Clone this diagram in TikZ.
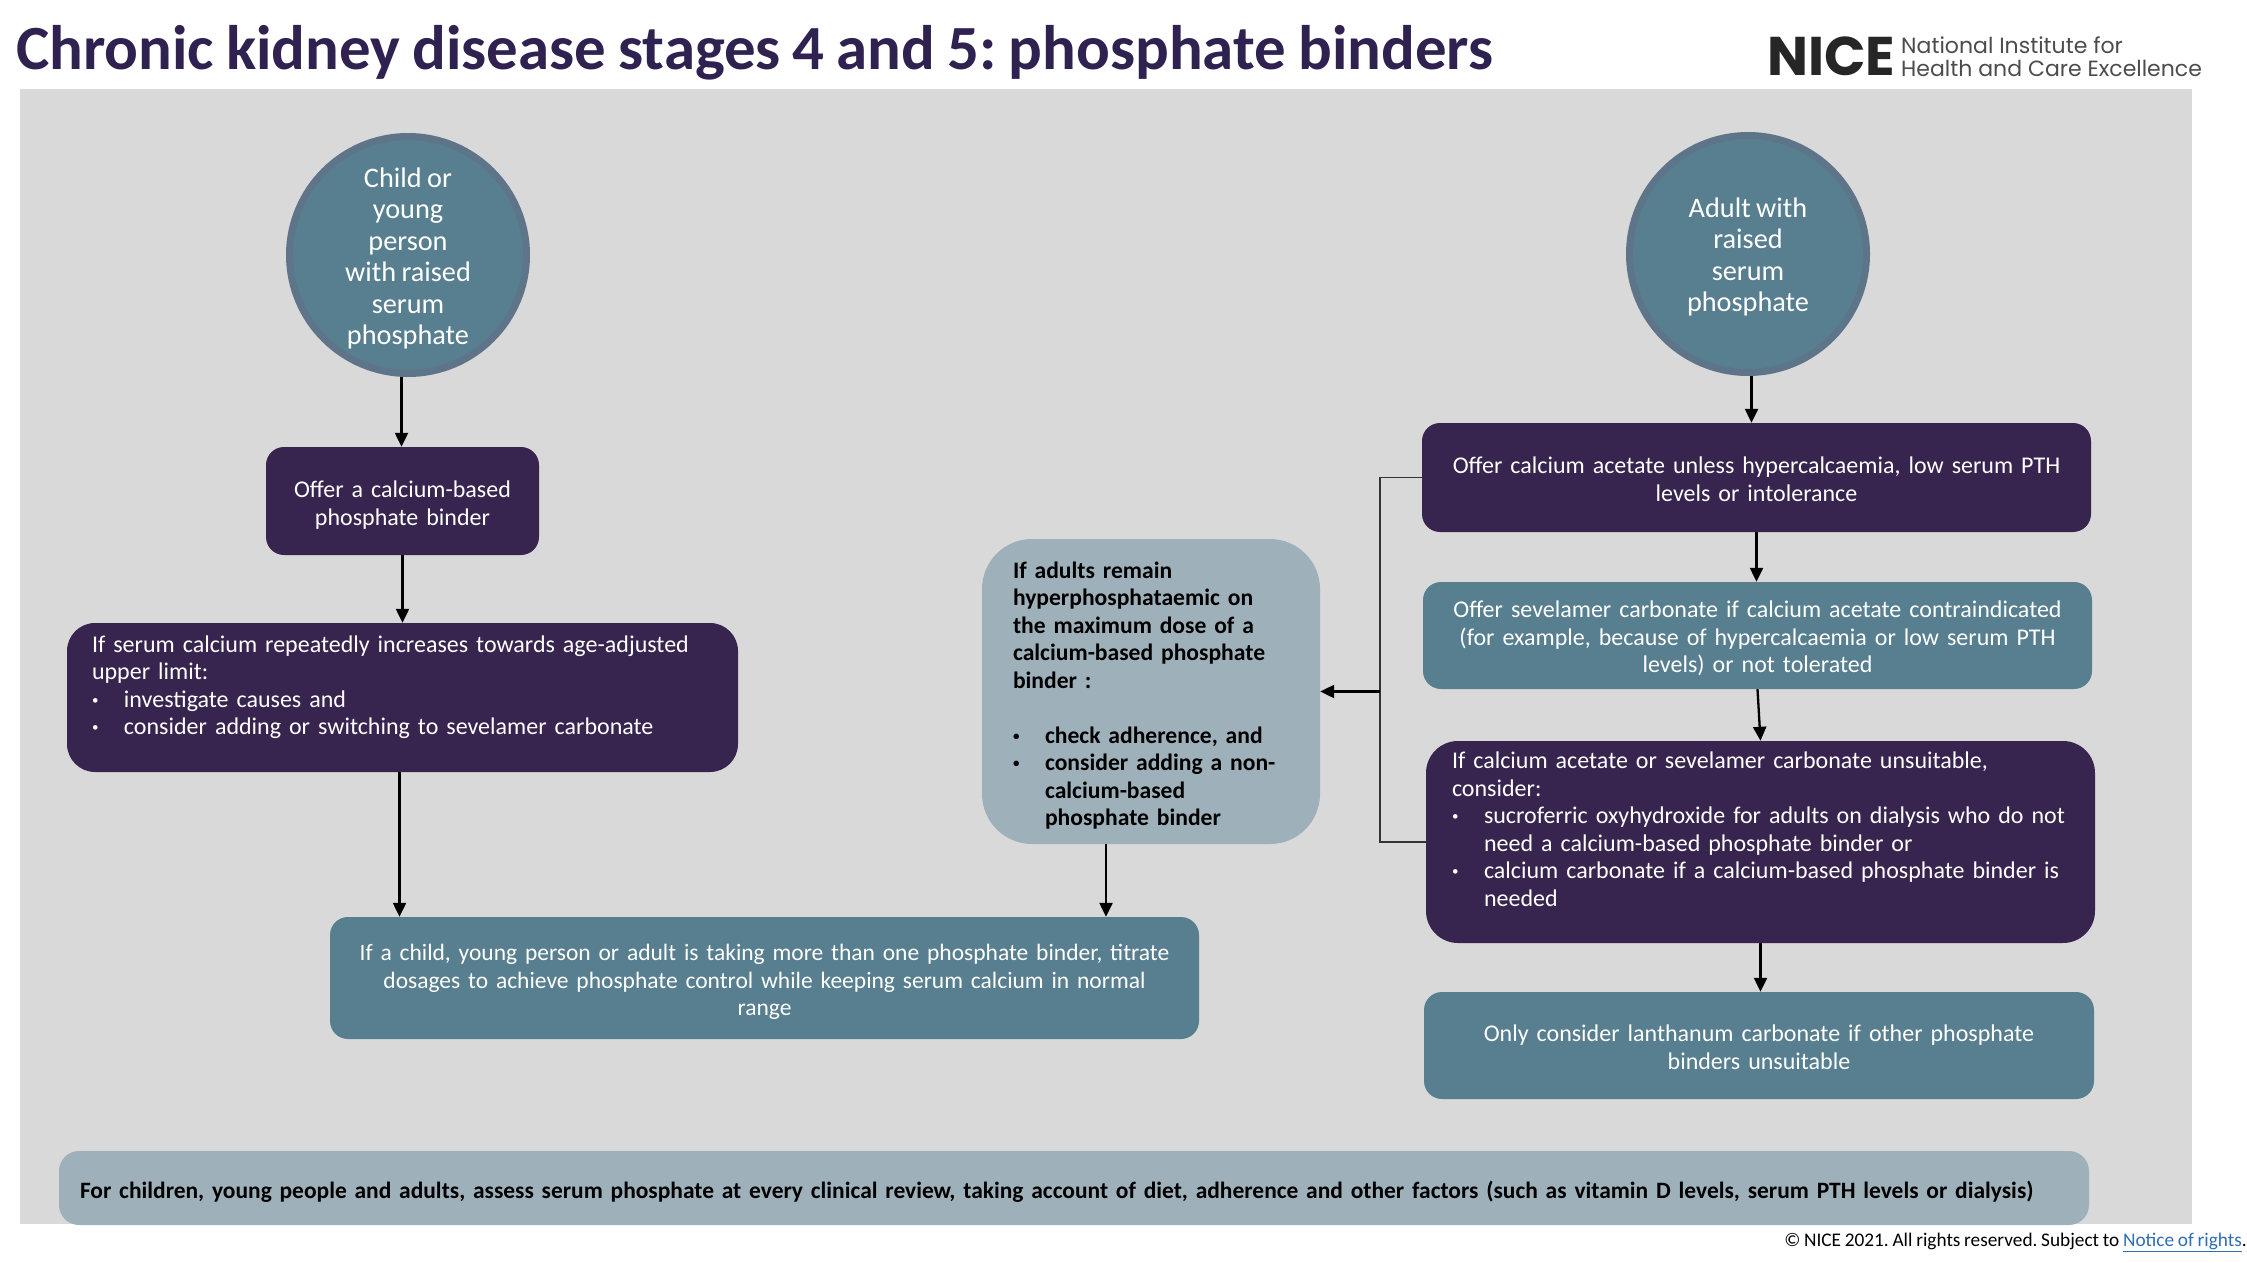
\documentclass[tikz,border=0pt]{standalone}
\usepackage{fontspec}
\setmainfont[WordSpace=0.85]{Carlito}
\newfontfamily\logofont{Poppins}
\usetikzlibrary{arrows.meta}
\frenchspacing
\definecolor{nicepurple}{HTML}{37254F}
\definecolor{niceteal}{HTML}{577F8F}
\definecolor{nicepale}{HTML}{9EB1BA}
\definecolor{niceback}{HTML}{D9D9D9}
\definecolor{nicering}{HTML}{5E7488}
\definecolor{nicetitle}{HTML}{2F2250}
\definecolor{nicelink}{HTML}{2F6DB5}
\newcommand{\bl}{\makebox[32pt][l]{\raisebox{3pt}{\fontsize{13}{13}\selectfont•}}}
\newcommand{\ct}{\hspace*{32pt}}
\tikzset{
  bodytext/.style={font=\fontsize{24}{27.5}\selectfont,text height=25pt},
  boldtext/.style={font=\fontsize{23.6}{27.5}\selectfont\bfseries},
  darkbox/.style={bodytext,fill=nicepurple,text=white,rounded corners=18pt,inner xsep=25pt,inner ysep=0pt},
  tealbox/.style={bodytext,fill=niceteal,text=white,rounded corners=18pt,inner xsep=25pt,inner ysep=0pt},
  palebox/.style={bodytext,boldtext,fill=nicepale,text=black,rounded corners=20pt,inner xsep=25pt,inner ysep=0pt},
  startcircle/.style={circle,fill=niceteal,draw=nicering,line width=7pt,minimum size=237pt,inner sep=0pt,
    text=white,align=center,font=\fontsize{28.3}{31.5}\selectfont},
  flow/.style={line width=2.3pt,-{Triangle[length=14pt,width=13pt]}},
  bracket/.style={line width=1.4pt,black!80},
}
\begin{document}
\begin{tikzpicture}[x=1pt,y=-1pt]
  \useasboundingbox (0,0) rectangle (2247,1263);
  \fill[niceback] (20,89) rectangle (2192,1224);
  \node[anchor=base west,inner sep=0pt,text=nicetitle,font=\fontsize{62.9}{70}\selectfont\bfseries] (title) at (16,70)
    {Chronic kidney disease stages 4 and 5: phosphate binders};
  \node[anchor=base west,inner sep=0pt,text=black!85,font=\logofont\fontsize{54.5}{56}\selectfont\bfseries] (logo) at (1767,75) {NICE};
  \node[anchor=south west,inner sep=0pt,align=left,text=black!70,font=\logofont\fontsize{22}{23.5}\selectfont] (logotext) at (1901,77)
    {National Institute for\\Health and Care Excellence};

  \node[startcircle,text height=184pt] (childcirc) at (408,255) {Child or\\young\\person\\with raised\\serum\\phosphate};
  \node[startcircle,text height=120pt] (adultcirc) at (1748,254) {Adult with\\raised\\serum\\phosphate};

  \node[darkbox,minimum width=273pt,minimum height=108pt,text width=223pt,align=center] (offerchild) at (402.5,501)
    {Offer a calcium-based\\phosphate binder};
  \node[darkbox,rounded corners=28pt,minimum width=671pt,minimum height=149pt,text width=621pt,align=left,text height=17pt,text depth=108pt] (serum) at (402.5,697.5)
    {If serum calcium repeatedly increases towards age-adjusted\\upper limit:\\
     \bl investigate causes and\\\bl consider adding or switching to sevelamer carbonate};
  \node[tealbox,font=\fontsize{23.5}{27.5}\selectfont,inner xsep=15pt,minimum width=869pt,minimum height=122pt,text width=839pt,align=center] (titrate) at (764.5,978)
    {If a child, young person or adult is taking more than one phosphate binder, titrate\\
     dosages to achieve phosphate control while keeping serum calcium in normal\\range};
  \node[palebox,rounded corners=50pt,inner xsep=31pt,minimum width=338pt,minimum height=305pt,text width=276pt,align=left] (adults) at (1151,691.5)
    {If adults remain\\hyperphosphataemic on\\the maximum dose of a\\calcium-based phosphate\\binder :\\[27.5pt]
     \bl check adherence, and\\\bl consider adding a non-\\\ct calcium-based\\\ct phosphate binder};

  \node[darkbox,text height=20pt,minimum width=669pt,minimum height=109pt,text width=619pt,align=center] (acetate) at (1756.5,477.5)
    {Offer calcium acetate unless hypercalcaemia, low serum PTH\\levels or intolerance};
  \node[tealbox,text height=23pt,minimum width=669pt,minimum height=107pt,text width=630pt,inner xsep=19.5pt,align=center] (sevelamer) at (1757.5,635.5)
    {Offer sevelamer carbonate if calcium acetate contraindicated\\(for example, because of hypercalcaemia or low serum PTH\\levels) or not tolerated};
  \node[darkbox,rounded corners=32pt,inner xsep=26pt,minimum width=669pt,minimum height=202pt,text width=617pt,align=left,text height=17pt,text depth=164pt] (calcium) at (1760.5,842)
    {If calcium acetate or sevelamer carbonate unsuitable,\\consider:\\
     \bl sucroferric oxyhydroxide for adults on dialysis who do not\\\ct need a calcium-based phosphate binder or\\
     \bl calcium carbonate if a calcium-based phosphate binder is\\\ct needed};
  \node[tealbox,text height=20pt,minimum width=670pt,minimum height=107pt,text width=620pt,align=center] (lanthanum) at (1759,1045.5)
    {Only consider lanthanum carbonate if other phosphate\\binders unsuitable};

  \node[palebox,font=\fontsize{23.45}{27.5}\selectfont\bfseries,inner xsep=21pt,minimum width=2030pt,minimum height=74pt,text width=1988pt,align=left] (review) at (1074,1188)
    {For children, young people and adults, assess serum phosphate at every clinical review, taking account of diet, adherence and other factors (such as vitamin D levels, serum PTH levels or dialysis)};
  \node[anchor=base east,inner sep=0pt,font=\fontsize{19.3}{24}\selectfont] (notice) at (2247,1246)
    {© NICE 2021. All rights reserved. Subject to \textcolor{nicelink}{\underline{Notice of rights}}.};

  \draw[flow] ([xshift=-1pt]childcirc.south -| offerchild.north) -- ([xshift=-1pt]offerchild.north);
  \draw[flow] (offerchild.south) -- (serum.north);
  \draw[flow] ([xshift=-3pt]serum.south) -- ([xshift=-3pt]serum.south |- titrate.north);
  \draw[flow] ([xshift=-45pt]adults.south) -- ([xshift=-45pt]adults.south |- titrate.north);
  \draw[flow] ([xshift=-5pt]acetate.north |- adultcirc.south) -- ([xshift=-5pt]acetate.north);
  \draw[flow] (acetate.south) -- (acetate.south |- sevelamer.north);
  \draw[flow] (sevelamer.south) -- (calcium.north);
  \draw[flow] (calcium.south) -- (calcium.south |- lanthanum.north);

  \coordinate (bracketmid) at (1380,691.5);
  \draw[bracket] (acetate.west) -- (acetate.west -| bracketmid) -- (calcium.west -| bracketmid) -- (calcium.west);
  \draw[flow] (bracketmid) -- (adults.east);
\end{tikzpicture}
\end{document}
